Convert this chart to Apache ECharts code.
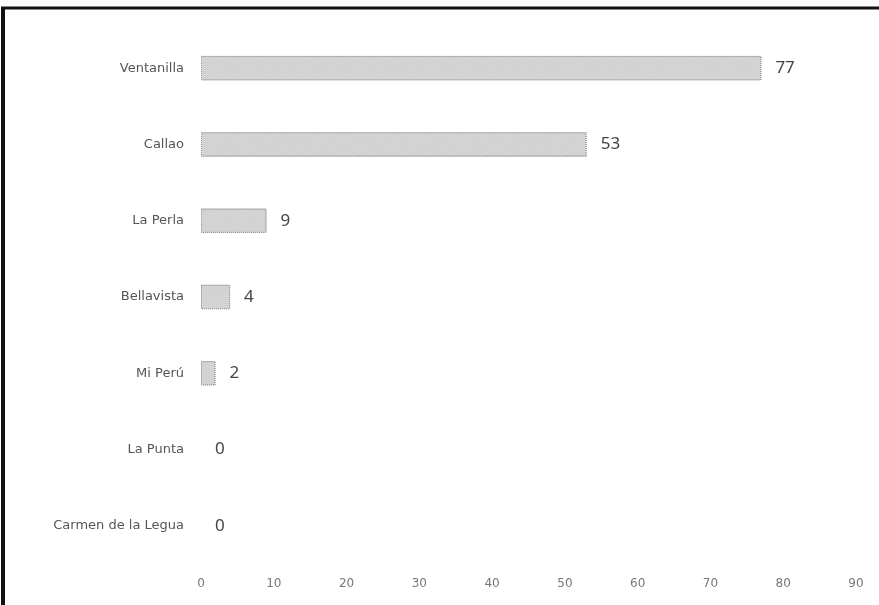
<!DOCTYPE html>
<html>
<head>
<meta charset="utf-8">
<script src="https://cdn.jsdelivr.net/npm/echarts@6/dist/echarts.min.js"></script>
<style>
html, body { margin: 0; padding: 0; background: #fff; }
#main { width: 879px; height: 605px; }
</style>
</head>
<body>
<div id="main"></div>
<script>
// distritos y casos
var categories = ['Ventanilla', 'Callao', 'La Perla', 'Bellavista', 'Mi Perú', 'La Punta', 'Carmen de la Legua'];
var values = [77, 53, 9, 4, 2, 0, 0];
var xTicks = [0, 10, 20, 30, 40, 50, 60, 70, 80, 90];

var myChart = echarts.init(document.getElementById('main'));

// barras en cero sin borde
var barData = [];
for (var i = 0; i < values.length; i++) {
    if (values[i] == 0) {
        barData.push({ value: values[i], itemStyle: { borderWidth: 0 } });
    } else {
        barData.push(values[i]);
    }
}

var option = {
    backgroundColor: '#fff',
    animation: false,
    textStyle: { fontFamily: 'DejaVu Sans' },
    grid: { left: 201, right: 23, top: 30, bottom: 41 },
    xAxis: {
        type: 'value',
        min: xTicks[0],
        max: xTicks[xTicks.length - 1],
        interval: 10,
        axisLine: { show: false },
        axisTick: { show: false },
        splitLine: { show: false },
        axisLabel: { color: '#777', fontSize: 12, margin: 14 }
    },
    yAxis: {
        type: 'category',
        inverse: true,
        data: categories,
        axisLine: { show: false },
        axisTick: { show: false },
        axisLabel: { color: '#555', fontSize: 13, margin: 17 }
    },
    series: [
        {
            type: 'bar',
            data: barData,
            barWidth: '32%',
            itemStyle: {
                color: '#d4d4d4',
                borderColor: '#9a9a9a',
                borderWidth: 1,
                borderType: 'dotted',
                decal: {
                    symbol: 'rect',
                    symbolSize: 0.4,
                    color: 'rgba(90,90,90,0.35)',
                    dashArrayX: [1, 2],
                    dashArrayY: [1, 2],
                    rotation: 0.6
                }
            },
            label: {
                show: true,
                position: 'right',
                distance: 14,
                color: '#444',
                fontSize: 17,
                fontFamily: 'Noto Sans'
            }
        }
    ],
    // marco del escaneo
    graphic: [
        { type: 'line', shape: { x1: 3, y1: 8, x2: 3, y2: 605 }, style: { stroke: '#111', lineWidth: 4 } },
        { type: 'line', shape: { x1: 1, y1: 8, x2: 879, y2: 8 }, style: { stroke: '#111', lineWidth: 3 } }
    ]
};

myChart.setOption(option);
</script>
</body>
</html>
